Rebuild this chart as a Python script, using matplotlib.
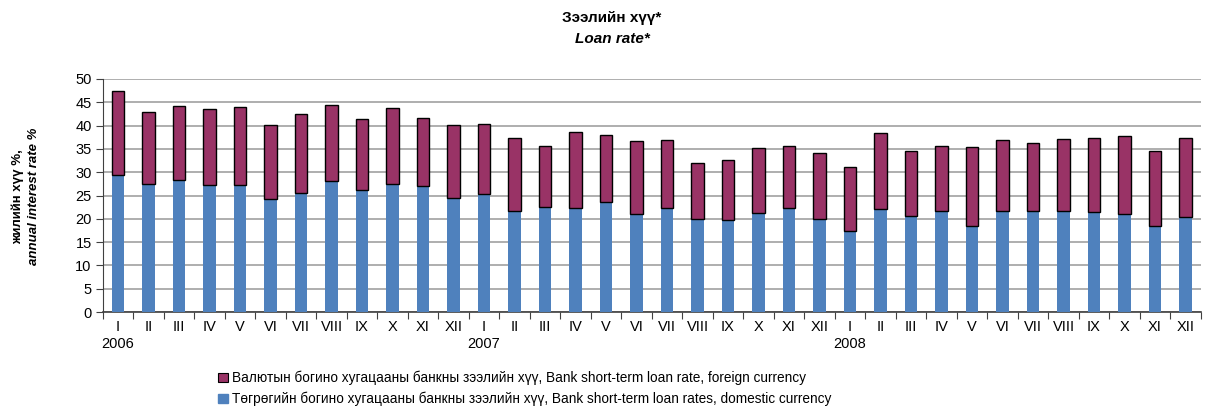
import numpy as np
import matplotlib.pyplot as plt
from matplotlib.patches import Patch

plt.rcParams['font.family'] = ['Liberation Sans', 'DejaVu Sans']

# -------------------------------
# Data
# -------------------------------
months = ["I", "II", "III", "IV", "V", "VI", "VII", "VIII", "IX", "X", "XI", "XII"] * 3
years = {0: "2006", 12: "2007", 24: "2008"}

domestic = [29.5, 27.5, 28.3, 27.2, 27.2, 24.2, 25.5, 28.1, 26.1, 27.5, 27.1, 24.5,
            25.3, 21.6, 22.5, 22.3, 23.7, 21.0, 22.3, 20.0, 19.7, 21.3, 22.3, 19.9,
            17.3, 22.1, 20.7, 21.6, 18.4, 21.7, 21.7, 21.7, 21.5, 21.0, 18.5, 20.4]
foreign = [17.9, 15.5, 15.8, 16.4, 16.7, 15.9, 16.9, 16.3, 15.4, 16.2, 14.5, 15.6,
           15.1, 15.7, 13.2, 16.3, 14.2, 15.6, 14.5, 12.0, 12.9, 13.8, 13.4, 14.3,
           13.9, 16.3, 13.9, 14.0, 17.1, 15.1, 14.5, 15.4, 15.8, 16.7, 16.0, 16.9]

label_foreign = "Валютын богино хугацааны банкны зээлийн хүү, Bank short-term loan rate, foreign currency"
label_domestic = "Төгрөгийн богино хугацааны банкны зээлийн хүү, Bank short-term loan rates, domestic currency"

blue = "#4F81BD"
maroon = "#993366"

# -------------------------------
# Plot
# -------------------------------
fig = plt.figure(figsize=(12.24, 4.09), dpi=100)
ax = fig.add_axes([0.084, 0.237, 0.897, 0.570])

x = np.arange(len(months))
ax.bar(x, domestic, width=0.42, color=blue, zorder=3)
ax.bar(x, foreign, width=0.42, bottom=domestic, color=maroon,
       edgecolor="black", linewidth=1.0, zorder=3)

ax.set_ylim(0, 50)
ax.set_yticks(np.arange(0, 51, 5))
ax.set_xlim(-0.5, len(months) - 0.5)
ax.yaxis.grid(True, color="#999999", linewidth=1.1, zorder=0)

# tick marks between categories, labels at centers
ax.set_xticks(np.arange(-0.5, len(months), 1.0))
ax.set_xticklabels([])
ax.set_xticks(x, minor=True)
labels = [m + ("\n" + years[i] if i in years else "") for i, m in enumerate(months)]
ax.set_xticklabels(labels, minor=True, va="top")
ax.tick_params(axis="x", which="minor", length=0, labelsize=10.5, pad=6)
ax.tick_params(axis="x", which="major", length=5, direction="out", color="#404040")
ax.tick_params(axis="y", length=5, labelsize=10.5, color="#404040", pad=3)

for s in ["top", "right"]:
    ax.spines[s].set_visible(False)
ax.spines["left"].set_color("#404040")
ax.spines["bottom"].set_color("#404040")
ax.spines["bottom"].set_linewidth(1.2)

for t in ax.get_xticklabels(minor=True):
    t.set_multialignment("center")

# titles
fig.text(0.5, 0.955, "Зээлийн хүү*", ha="center", va="center",
         fontsize=11, fontweight="bold")
fig.text(0.5, 0.905, "Loan rate*", ha="center", va="center",
         fontsize=11, fontweight="bold", style="italic")

# y label
fig.text(0.015, 0.52, "жилийн хүү %,", rotation=90, ha="center", va="center",
         fontsize=9.5, fontweight="bold")
fig.text(0.028, 0.52, "annual interest rate %", rotation=90, ha="center", va="center",
         fontsize=9.5, fontweight="bold", style="italic")

# legend
handles = [Patch(facecolor=maroon, edgecolor="black", linewidth=0.8, label=label_foreign),
           Patch(facecolor=blue, edgecolor=blue, label=label_domestic)]
fig.legend(handles=handles, loc="center left", bbox_to_anchor=(0.174, 0.05),
           frameon=False, fontsize=9.8, handlelength=0.7, handleheight=0.7,
           handletextpad=0.3, labelspacing=0.5, borderaxespad=0)

plt.savefig("out.png", dpi=100)
